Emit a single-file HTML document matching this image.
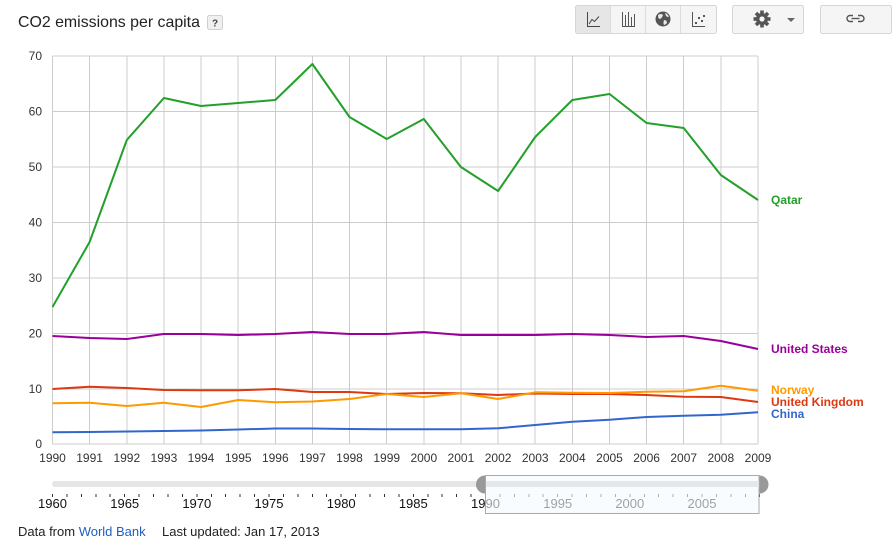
<!DOCTYPE html>
<html><head><meta charset="utf-8">
<style>
html,body{margin:0;padding:0;background:#fff;}
body{width:895px;height:544px;overflow:hidden;position:relative;font-family:"Liberation Sans",Arial,sans-serif;}
svg{position:absolute;left:0;top:0;}
</style></head>
<body>
<svg width="895" height="544" viewBox="0 0 895 544" xmlns="http://www.w3.org/2000/svg" font-family="Liberation Sans, Arial, sans-serif">
  <!-- Title -->
  <text x="18" y="27" font-size="15.9" fill="#222">CO2 emissions per capita</text>
  <rect x="207.5" y="15.5" width="15" height="14" rx="2" fill="#f0f0f0" stroke="#d0d0d0"/>
  <text x="215" y="26.5" font-size="10" font-weight="bold" fill="#444" text-anchor="middle">?</text>

  <!-- Toolbar buttons -->
  <rect x="575.5" y="5.5" width="141" height="28" rx="2" fill="#f5f5f5" stroke="#d6d6d6"/>
  <rect x="576" y="6" width="34" height="27" fill="#e6e6e6"/>
  <line x1="610.5" y1="6" x2="610.5" y2="33" stroke="#dcdcdc"/>
  <line x1="645.5" y1="6" x2="645.5" y2="33" stroke="#dcdcdc"/>
  <line x1="680.5" y1="6" x2="680.5" y2="33" stroke="#dcdcdc"/>
  <!-- line icon -->
  <polyline points="587.5,12 587.5,26.5 600,26.5" fill="none" stroke="#444" stroke-width="1"/>
  <polyline points="589,24 592,19.5 594.5,21.5 599,16.5" fill="none" stroke="#444" stroke-width="1"/>
  <!-- bar icon -->
  <g stroke="#555" stroke-width="1" fill="none">
    <polyline points="622.5,12 622.5,26.5 635,26.5"/>
    <line x1="625.5" y1="15" x2="625.5" y2="26"/>
    <line x1="628.5" y1="12" x2="628.5" y2="26"/>
    <line x1="631.5" y1="17" x2="631.5" y2="26"/>
    <line x1="634.5" y1="14" x2="634.5" y2="26"/>
  </g>
  <!-- globe icon -->
  <circle cx="663" cy="19" r="7.5" fill="#555"/>
  <path d="M658,15 q3,-2 5,0 q-1,3 -3,4 q-2,0 -2,-4z M664,20 q3,0 3,3 q-2,2 -3,2 q-1,-2 0,-5z M665,13 q3,1 4,4 q-2,0 -3,-1z" fill="#e8e8e8"/>
  <!-- scatter icon -->
  <g>
    <polyline points="692.5,12 692.5,26.5 705,26.5" fill="none" stroke="#555" stroke-width="1"/>
    <rect x="695" y="22" width="2" height="2" fill="#555"/>
    <rect x="698" y="17" width="2" height="2" fill="#555"/>
    <rect x="701" y="20" width="2" height="2" fill="#555"/>
    <rect x="703" y="15" width="2" height="2" fill="#555"/>
  </g>
  <!-- settings button -->
  <rect x="732.5" y="5.5" width="71" height="28" rx="2" fill="#f5f5f5" stroke="#d6d6d6"/>
  <g transform="translate(762,19)" fill="#555">
    <circle r="6"/>
    <rect x="-1.8" y="-8.5" width="3.6" height="17"/>
    <rect x="-1.8" y="-8.5" width="3.6" height="17" transform="rotate(45)"/>
    <rect x="-1.8" y="-8.5" width="3.6" height="17" transform="rotate(90)"/>
    <rect x="-1.8" y="-8.5" width="3.6" height="17" transform="rotate(135)"/>
    <circle r="2.6" fill="#f5f5f5"/>
  </g>
  <polygon points="787,18 795,18 791,22" fill="#666"/>
  <!-- link button -->
  <rect x="820.5" y="5.5" width="71" height="28" rx="2" fill="#f5f5f5" stroke="#d6d6d6"/>
  <g fill="none" stroke="#555" stroke-width="1.4">
    <path d="M853,15.5 h-3 a3,3 0 0,0 0,6 h3"/>
    <path d="M858,15.5 h3 a3,3 0 0,1 0,6 h-3"/>
    <line x1="851.5" y1="18.5" x2="859.5" y2="18.5"/>
  </g>

  <!-- Gridlines -->
  <g stroke="#cccccc" stroke-width="1" shape-rendering="crispEdges">
    <line x1="52.5" y1="56" x2="758" y2="56"/>
    <line x1="52.5" y1="111.5" x2="758" y2="111.5"/>
    <line x1="52.5" y1="167" x2="758" y2="167"/>
    <line x1="52.5" y1="222.5" x2="758" y2="222.5"/>
    <line x1="52.5" y1="278" x2="758" y2="278"/>
    <line x1="52.5" y1="333.5" x2="758" y2="333.5"/>
    <line x1="52.5" y1="389" x2="758" y2="389"/>
    <line x1="52.5" y1="444" x2="758" y2="444"/>
    <line x1="52.5" y1="56" x2="52.5" y2="444"/>
    <line x1="89.6" y1="56" x2="89.6" y2="444"/>
    <line x1="126.8" y1="56" x2="126.8" y2="444"/>
    <line x1="163.9" y1="56" x2="163.9" y2="444"/>
    <line x1="201" y1="56" x2="201" y2="444"/>
    <line x1="238.2" y1="56" x2="238.2" y2="444"/>
    <line x1="275.3" y1="56" x2="275.3" y2="444"/>
    <line x1="312.4" y1="56" x2="312.4" y2="444"/>
    <line x1="349.5" y1="56" x2="349.5" y2="444"/>
    <line x1="386.7" y1="56" x2="386.7" y2="444"/>
    <line x1="423.8" y1="56" x2="423.8" y2="444"/>
    <line x1="460.9" y1="56" x2="460.9" y2="444"/>
    <line x1="498.1" y1="56" x2="498.1" y2="444"/>
    <line x1="535.2" y1="56" x2="535.2" y2="444"/>
    <line x1="572.3" y1="56" x2="572.3" y2="444"/>
    <line x1="609.5" y1="56" x2="609.5" y2="444"/>
    <line x1="646.6" y1="56" x2="646.6" y2="444"/>
    <line x1="683.7" y1="56" x2="683.7" y2="444"/>
    <line x1="720.8" y1="56" x2="720.8" y2="444"/>
    <line x1="758" y1="56" x2="758" y2="444"/>
  </g>

  <!-- Y labels -->
  <g font-size="12" fill="#333" text-anchor="end">
    <text x="42" y="60">70</text>
    <text x="42" y="115.5">60</text>
    <text x="42" y="171">50</text>
    <text x="42" y="226.5">40</text>
    <text x="42" y="282">30</text>
    <text x="42" y="337.5">20</text>
    <text x="42" y="393">10</text>
    <text x="42" y="448">0</text>
  </g>
  <!-- X labels -->
  <g font-size="12" fill="#333" text-anchor="middle">
    <text x="52.5" y="462">1990</text>
    <text x="89.6" y="462">1991</text>
    <text x="126.8" y="462">1992</text>
    <text x="163.9" y="462">1993</text>
    <text x="201" y="462">1994</text>
    <text x="238.2" y="462">1995</text>
    <text x="275.3" y="462">1996</text>
    <text x="312.4" y="462">1997</text>
    <text x="349.5" y="462">1998</text>
    <text x="386.7" y="462">1999</text>
    <text x="423.8" y="462">2000</text>
    <text x="460.9" y="462">2001</text>
    <text x="498.1" y="462">2002</text>
    <text x="535.2" y="462">2003</text>
    <text x="572.3" y="462">2004</text>
    <text x="609.5" y="462">2005</text>
    <text x="646.6" y="462">2006</text>
    <text x="683.7" y="462">2007</text>
    <text x="720.8" y="462">2008</text>
    <text x="758" y="462">2009</text>
  </g>

  <!-- Series -->
  <g fill="none" stroke-width="2" stroke-linejoin="round">
    <polyline stroke="#3366cc" points="52.5,432.3 89.6,432 126.8,431.5 163.9,431 201,430.5 238.2,429.5 275.3,428.5 312.4,428.5 349.5,429 386.7,429.3 423.8,429.3 460.9,429.3 498.1,428.3 535.2,425 572.3,421.7 609.5,419.7 646.6,417 683.7,415.7 720.8,414.7 758,412.3"/>
    <polyline stroke="#dc3912" points="52.5,389 89.6,386.7 126.8,388 163.9,390 201,390.3 238.2,390.3 275.3,389 312.4,392 349.5,392 386.7,394 423.8,393 460.9,393.3 498.1,395 535.2,393.5 572.3,394 609.5,394 646.6,395 683.7,396.7 720.8,397 758,402"/>
    <polyline stroke="#ff9900" points="52.5,403.3 89.6,402.7 126.8,406 163.9,402.7 201,407 238.2,400 275.3,402.3 312.4,401.5 349.5,399 386.7,394 423.8,397 460.9,393.3 498.1,399 535.2,392.3 572.3,392.7 609.5,393 646.6,391.7 683.7,391.3 720.8,385.7 758,390.7"/>
    <polyline stroke="#990099" points="52.5,336 89.6,338 126.8,339 163.9,334 201,334 238.2,335 275.3,334 312.4,332 349.5,334 386.7,334 423.8,332 460.9,335 498.1,335 535.2,335 572.3,334 609.5,335 646.6,337 683.7,336 720.8,341 758,349"/>
    <polyline stroke="#22a029" points="52.5,307 89.6,242 126.8,140 163.9,98 201,106 238.2,103 275.3,100 312.4,64 349.5,117 386.7,139 423.8,119 460.9,167 498.1,191 535.2,137 572.3,100 609.5,94 646.6,123 683.7,128 720.8,175 758,200"/>
  </g>

  <!-- Series labels -->
  <g font-size="12" font-weight="bold">
    <text x="771" y="204" fill="#22a029">Qatar</text>
    <text x="771" y="353" fill="#990099">United States</text>
    <text x="771" y="394" fill="#ff9900">Norway</text>
    <text x="771" y="406" fill="#dc3912">United Kingdom</text>
    <text x="771" y="418" fill="#3366cc">China</text>
  </g>

  <!-- Slider -->
  <rect x="52" y="481" width="712" height="6" rx="3" fill="#e6e6e6"/>
  <g stroke="#333" stroke-width="1" shape-rendering="crispEdges">
    <line x1="52.5" y1="494" x2="52.5" y2="497"/><line x1="66.9" y1="494" x2="66.9" y2="497"/><line x1="81.4" y1="494" x2="81.4" y2="497"/><line x1="95.8" y1="494" x2="95.8" y2="497"/><line x1="110.2" y1="494" x2="110.2" y2="497"/>
    <line x1="124.7" y1="494" x2="124.7" y2="497"/><line x1="139.1" y1="494" x2="139.1" y2="497"/><line x1="153.5" y1="494" x2="153.5" y2="497"/><line x1="168" y1="494" x2="168" y2="497"/><line x1="182.4" y1="494" x2="182.4" y2="497"/>
    <line x1="196.8" y1="494" x2="196.8" y2="497"/><line x1="211.3" y1="494" x2="211.3" y2="497"/><line x1="225.7" y1="494" x2="225.7" y2="497"/><line x1="240.1" y1="494" x2="240.1" y2="497"/><line x1="254.6" y1="494" x2="254.6" y2="497"/>
    <line x1="269" y1="494" x2="269" y2="497"/><line x1="283.4" y1="494" x2="283.4" y2="497"/><line x1="297.9" y1="494" x2="297.9" y2="497"/><line x1="312.3" y1="494" x2="312.3" y2="497"/><line x1="326.7" y1="494" x2="326.7" y2="497"/>
    <line x1="341.2" y1="494" x2="341.2" y2="497"/><line x1="355.6" y1="494" x2="355.6" y2="497"/><line x1="370" y1="494" x2="370" y2="497"/><line x1="384.5" y1="494" x2="384.5" y2="497"/><line x1="398.9" y1="494" x2="398.9" y2="497"/>
    <line x1="413.3" y1="494" x2="413.3" y2="497"/><line x1="427.8" y1="494" x2="427.8" y2="497"/><line x1="442.2" y1="494" x2="442.2" y2="497"/><line x1="456.6" y1="494" x2="456.6" y2="497"/><line x1="471.1" y1="494" x2="471.1" y2="497"/>
    <line x1="485.5" y1="494" x2="485.5" y2="497"/><line x1="499.9" y1="494" x2="499.9" y2="497"/><line x1="514.4" y1="494" x2="514.4" y2="497"/><line x1="528.8" y1="494" x2="528.8" y2="497"/><line x1="543.2" y1="494" x2="543.2" y2="497"/>
    <line x1="557.7" y1="494" x2="557.7" y2="497"/><line x1="572.1" y1="494" x2="572.1" y2="497"/><line x1="586.5" y1="494" x2="586.5" y2="497"/><line x1="601" y1="494" x2="601" y2="497"/><line x1="615.4" y1="494" x2="615.4" y2="497"/>
    <line x1="629.8" y1="494" x2="629.8" y2="497"/><line x1="644.3" y1="494" x2="644.3" y2="497"/><line x1="658.7" y1="494" x2="658.7" y2="497"/><line x1="673.1" y1="494" x2="673.1" y2="497"/><line x1="687.6" y1="494" x2="687.6" y2="497"/>
    <line x1="702" y1="494" x2="702" y2="497"/><line x1="716.4" y1="494" x2="716.4" y2="497"/><line x1="730.9" y1="494" x2="730.9" y2="497"/><line x1="745.3" y1="494" x2="745.3" y2="497"/><line x1="759.5" y1="494" x2="759.5" y2="497"/>
  </g>
  <g font-size="13" fill="#111" text-anchor="middle">
    <text x="52.5" y="508">1960</text>
    <text x="124.7" y="508">1965</text>
    <text x="196.8" y="508">1970</text>
    <text x="269" y="508">1975</text>
    <text x="341.2" y="508">1980</text>
    <text x="413.3" y="508">1985</text>
    <text x="485.5" y="508">1990</text>
    <text x="557.7" y="508">1995</text>
    <text x="629.8" y="508">2000</text>
    <text x="702" y="508">2005</text>
  </g>
  <!-- selection overlay -->
  <rect x="485.5" y="475.5" width="273.5" height="38" fill="#f3fafd" fill-opacity="0.62" stroke="#aaaaaa" stroke-width="1"/>
  <rect x="486" y="481" width="273" height="6" fill="#e1e7ea"/>
  <!-- handles -->
  <path d="M485,475.5 A9,9 0 0,0 485,493.5 Z" fill="#999"/>
  <path d="M759.5,475.5 A9,9 0 0,1 759.5,493.5 Z" fill="#999"/>

  <!-- Footer -->
  <text x="18" y="536" font-size="13" fill="#222">Data from <tspan fill="#1f5fbf">World Bank</tspan></text>
  <text x="162" y="536" font-size="13" fill="#222">Last updated: Jan 17, 2013</text>
</svg>
</body></html>
